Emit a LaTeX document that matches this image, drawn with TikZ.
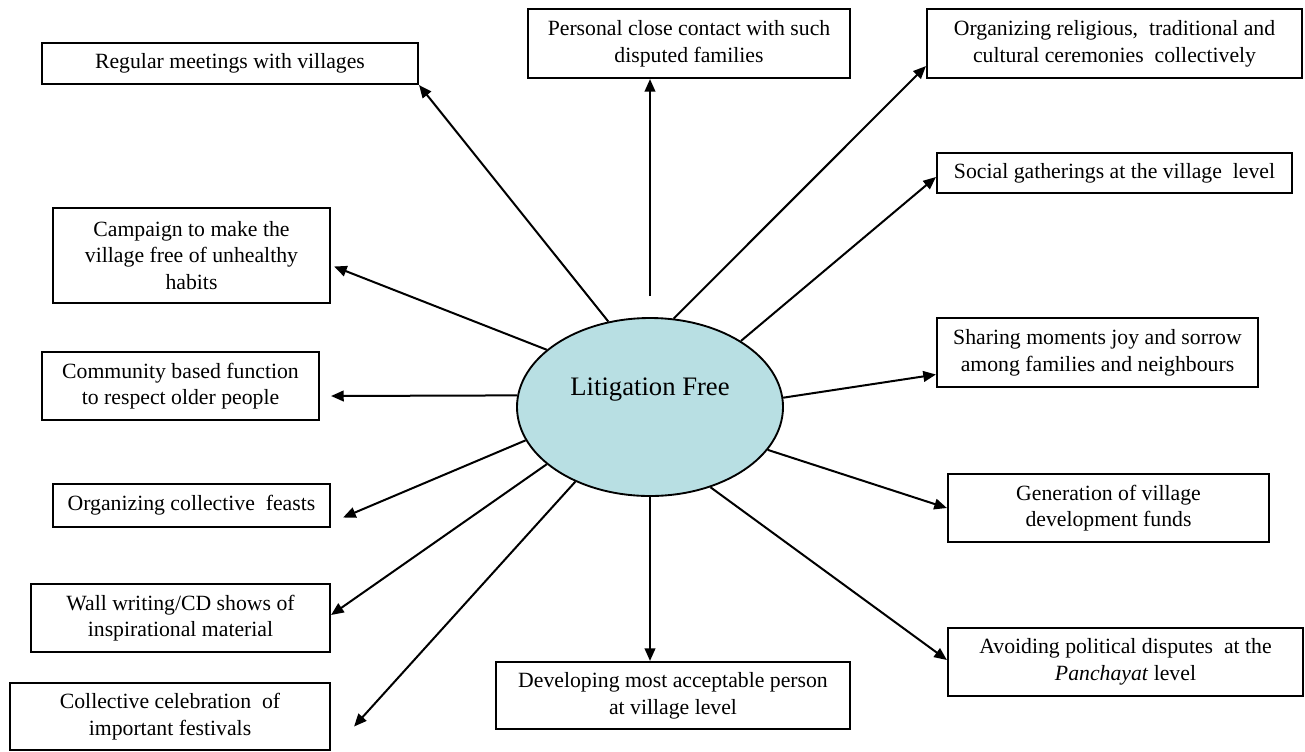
\documentclass[tikz,border=0pt]{standalone}
\usepackage{fontspec}
\setmainfont{Liberation Serif}
\usetikzlibrary{shapes.geometric,arrows.meta,calc}
\definecolor{lfblue}{RGB}{184,223,227}
\begin{document}
\begin{tikzpicture}[x=0.75pt,y=-0.75pt,
  box/.style={draw=black,line width=1.6pt,fill=white,inner sep=0pt,align=center,
    font=\fontsize{16.3}{20}\selectfont},
  arr/.style={line width=1.5pt,-{Triangle[length=9.5pt,width=8pt]}},
  hub/.style={ellipse,draw=black,line width=1.4pt,fill=lfblue,inner sep=0pt,
    minimum width=266*0.75pt,minimum height=178*0.75pt,
    font=\fontsize{20}{24}\selectfont,text height=13.7pt,text depth=31.7pt}]
\useasboundingbox (0,0) rectangle (1305,751);
% hub
\node[hub] (lf) at (650,407) {Litigation Free};
% boxes
\node[box,minimum width=376*0.75pt,minimum height=41*0.75pt] (reg) at (230,63.5) {Regular meetings with villages};
\node[box,minimum width=322*0.75pt,minimum height=69*0.75pt] (per) at (689,43.5) {Personal close contact with such\\disputed families};
\node[box,minimum width=375*0.75pt,minimum height=69*0.75pt] (rel) at (1114.5,43.5) {Organizing religious, \ traditional and\\cultural ceremonies \ collectively};
\node[box,minimum width=355*0.75pt,minimum height=40*0.75pt] (soc) at (1114.5,173) {Social gatherings at the village \ level};
\node[box,minimum width=321*0.75pt,minimum height=69*0.75pt] (sha) at (1097.5,352.5) {Sharing moments joy and sorrow\\among families and neighbours};
\node[box,minimum width=277*0.75pt,minimum height=95*0.75pt] (cam) at (191.5,255.5) {Campaign to make the\\village free of unhealthy\\habits};
\node[box,minimum width=277*0.75pt,minimum height=68*0.75pt] (com) at (180.5,386) {Community based function\\to respect older people};
\node[box,minimum width=277*0.75pt,minimum height=43*0.75pt] (fea) at (191.5,505.5) {Organizing collective \ feasts};
\node[box,minimum width=299*0.75pt,minimum height=68*0.75pt] (wal) at (180.5,618) {Wall writing/CD shows of\\inspirational material};
\node[box,minimum width=320*0.75pt,minimum height=67*0.75pt] (col) at (170,716.5) {Collective celebration \ of\\important festivals};
\node[box,minimum width=354*0.75pt,minimum height=67*0.75pt] (dev) at (673,695.5) {Developing most acceptable person\\at village level};
\node[box,minimum width=321*0.75pt,minimum height=68*0.75pt] (gen) at (1108.5,508) {Generation of village\\development funds};
\node[box,minimum width=355*0.75pt,minimum height=68*0.75pt] (avo) at (1125.5,662) {Avoiding political disputes \ at the\\\textit{Panchayat} level};
% connectors
\draw[arr] (lf.116) -- (reg.south east);
\draw[arr,shorten <=15.75pt] (lf.north) -- (lf.north |- per.south);
\draw[arr] (lf.75.5) -- ($(rel.south west)+(0,-13)$);
\draw[arr] (lf.36.7) -- ($(soc.west)+(0,4)$);
\draw[arr] (lf.4.7) -- ($(sha.west)+(0,22)$);
\draw[arr] (lf.-20) -- (gen.west);
\draw[arr] (lf.-53.7) -- ($(avo.west)+(0,-2)$);
\draw[arr] (lf.south) -- (lf.south |- dev.north);
\draw[arr] (lf.225.7) -- ($(col.east)+(23,10)$);
\draw[arr] (lf.209.2) -- ($(wal.east)+(0,-3)$);
\draw[arr] (lf.195.5) -- ($(fea.east)+(12,12)$);
\draw[arr] (lf.175.3) -- ($(com.east)+(11,10)$);
\draw[arr] (lf.151) -- ($(cam.east)+(3,11)$);
\end{tikzpicture}
\end{document}
